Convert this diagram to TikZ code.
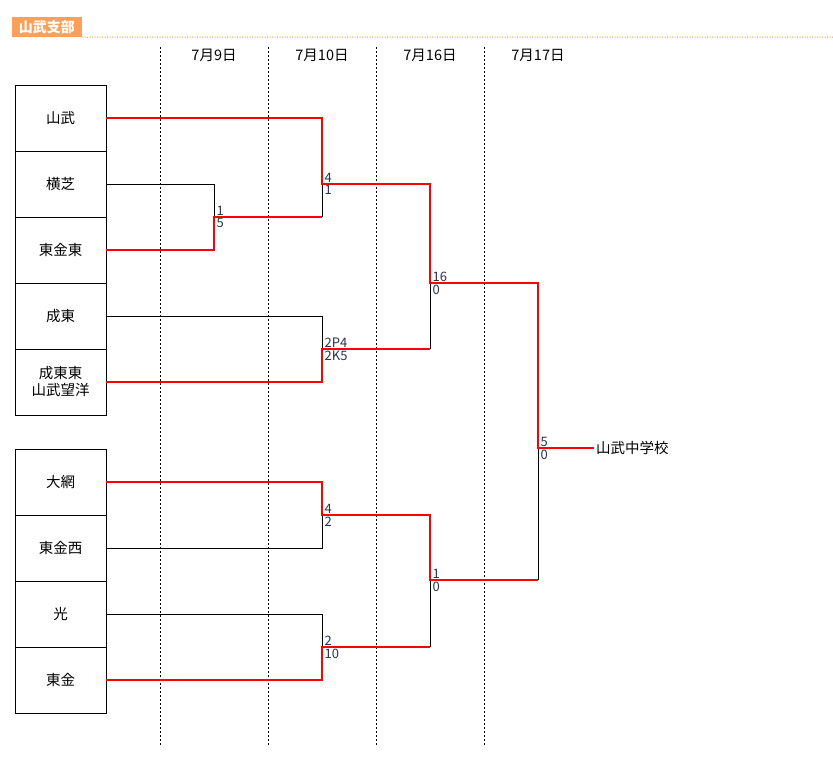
\documentclass[tikz,border=0pt]{standalone}
\usepackage{fontspec}
\setmainfont{Noto Sans CJK JP}
\definecolor{tagorange}{RGB}{250,160,90}
\definecolor{tagline}{RGB}{225,160,50}
\definecolor{scoreblue}{RGB}{40,50,80}
\tikzset{
  team/.style={draw,line width=0.8pt,minimum width=91pt,minimum height=66pt,inner sep=0pt,align=center,font=\fontsize{14.5}{17}\selectfont},
  win/.style={red,line width=1.6pt},
  lose/.style={black,line width=0.8pt},
  score/.style={inner xsep=2.5pt,inner ysep=1.5pt,text=scoreblue,font=\fontsize{13}{14}\selectfont}
}
\begin{document}
\begin{tikzpicture}[x=1pt,y=-1pt]
\useasboundingbox (0,0) rectangle (833,756);

% header
\node[fill=tagorange,text=white,font=\bfseries\fontsize{14}{16}\selectfont,minimum width=70pt,minimum height=20pt,inner sep=0pt] (tag) at (47,27) {山武支部};
\draw[tagline,dash pattern=on 1pt off 1.5pt,line width=1pt] (tag.south east) -- (833,37);

% days
\foreach \x/\d in {214/7月9日,322/7月10日,430/7月16日,538/7月17日}
  \node[font=\fontsize{14.5}{16}\selectfont] at (\x,55) {\d};
\foreach \x in {160,268,376,484}
  \draw[dash pattern=on 2pt off 2pt,line width=0.8pt] (\x,47) -- (\x,746);

% teams
\node[team] (t1) at (60.5,118) {山武};
\node[team] (t2) at (60.5,184) {横芝};
\node[team] (t3) at (60.5,250) {東金東};
\node[team] (t4) at (60.5,316) {成東};
\node[team] (t5) at (60.5,382) {成東東\\山武望洋};
\node[team] (t6) at (60.5,482) {大網};
\node[team] (t7) at (60.5,548) {東金西};
\node[team] (t8) at (60.5,614) {光};
\node[team] (t9) at (60.5,680) {東金};

\coordinate (a) at (214,217);
\coordinate (b1) at (322,184);
\coordinate (b2) at (322,349);
\coordinate (b3) at (322,515);
\coordinate (b4) at (322,647);
\coordinate (c1) at (430,283);
\coordinate (c2) at (430,580);
\coordinate (d) at (538,448);
\node[anchor=west,inner sep=2pt,font=\fontsize{14.5}{16}\selectfont] (w) at (594,448) {山武中学校};

% losers
\draw[lose] (t2.east) -| (a);
\draw[lose] (b1) -- (b1 |- a);
\draw[lose] (t4.east) -| (b2);
\draw[lose] (c1) -- (c1 |- b2);
\draw[lose] (t7.east) -| (b3);
\draw[lose] (t8.east) -| (b4);
\draw[lose] (c2) -- (c2 |- b4);
\draw[lose] (d) -- (d |- c2);

% winners
\draw[win] (t1.east) -| (b1) -| (c1) -| (d) -- (w.west);
\draw[win] (t3.east) -| (a) -- (a -| b1);
\draw[win] (t5.east) -| (b2) -- (b2 -| c1);
\draw[win] (t6.east) -| (b3) -| (c2) -- (c2 -| d);
\draw[win] (t9.east) -| (b4) -- (b4 -| c2);

% scores
\node[score,anchor=south west] at (a) {1};
\node[score,anchor=north west] at (a) {5};
\node[score,anchor=south west] at (b1) {4};
\node[score,anchor=north west] at (b1) {1};
\node[score,anchor=south west] at (b2) {2P4};
\node[score,anchor=north west] at (b2) {2K5};
\node[score,anchor=south west] at (b3) {4};
\node[score,anchor=north west] at (b3) {2};
\node[score,anchor=south west] at (b4) {2};
\node[score,anchor=north west] at (b4) {10};
\node[score,anchor=south west] at (c1) {16};
\node[score,anchor=north west] at (c1) {0};
\node[score,anchor=south west] at (c2) {1};
\node[score,anchor=north west] at (c2) {0};
\node[score,anchor=south west] at (d) {5};
\node[score,anchor=north west] at (d) {0};

\end{tikzpicture}
\end{document}
